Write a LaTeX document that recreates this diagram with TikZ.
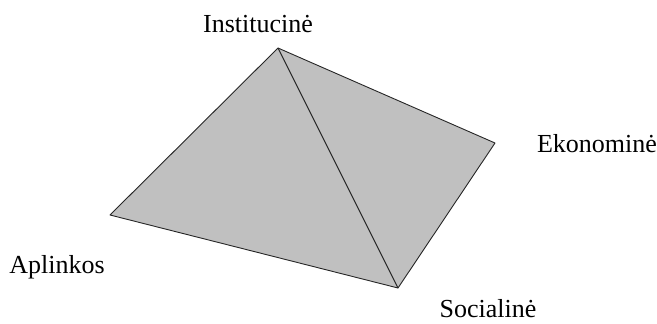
\documentclass[tikz,border=0pt]{standalone}
\usepackage{fontspec}
\setmainfont{Liberation Serif}
\begin{document}
\begin{tikzpicture}[x=1pt,y=-1pt,
  vtx/.style={coordinate},
  lbl/.style={font=\fontsize{26}{28}\selectfont, text=black, inner sep=0pt},
  edge/.style={draw=black!85, line width=0.9pt, line join=round}]
\useasboundingbox (0,0) rectangle (657,324);
\coordinate (T) at (278,48);
\coordinate (R) at (495,143);
\coordinate (B) at (398,288);
\coordinate (L) at (110,215);
\fill[fill={rgb,255:red,192;green,192;blue,192}] (T) -- (R) -- (B) -- (L) -- cycle;
\draw[edge] (T) -- (R) -- (B) -- (L) -- cycle;
\draw[edge] (T) -- (B);
\node[lbl] (t) at (258,24) {Institucinė};
\node[lbl] (r) at (597,144) {Ekonominė};
\node[lbl] (l) at (57,267) {Aplinkos};
\node[lbl] (b) at (488,309) {Socialinė};
\end{tikzpicture}
\end{document}
